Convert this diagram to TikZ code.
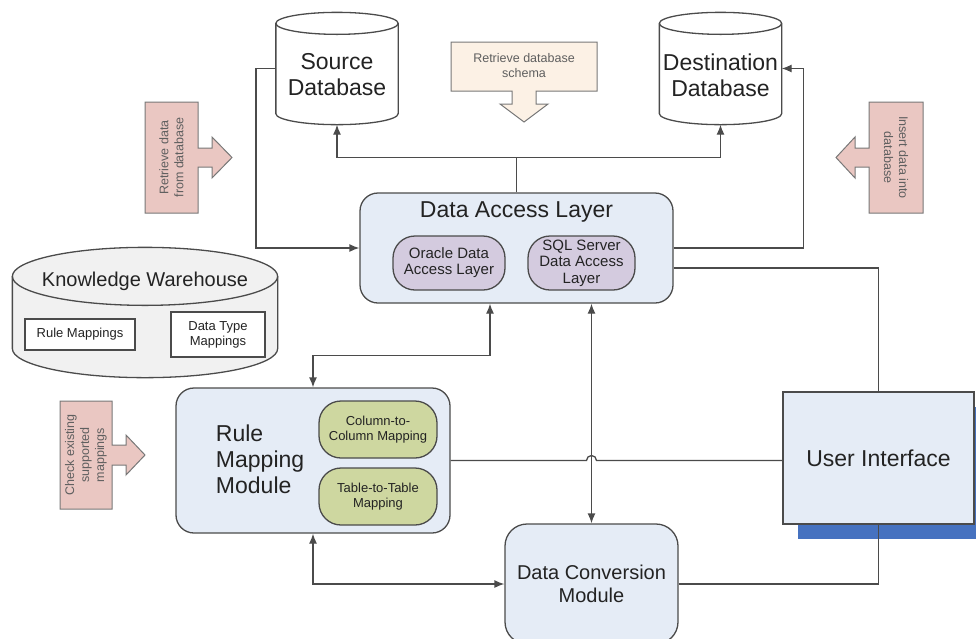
\documentclass[tikz,border=0pt]{standalone}
\usepackage{fontspec}
\setmainfont{Liberation Sans}
\usetikzlibrary{arrows.meta,calc,shadows}

\definecolor{boxblue}{RGB}{229,236,246}
\definecolor{pillpurple}{RGB}{212,203,223}
\definecolor{pillgreen}{RGB}{206,215,160}
\definecolor{notepink}{RGB}{234,199,194}
\definecolor{notepeach}{RGB}{252,241,229}
\definecolor{drumgray}{RGB}{241,241,241}
\definecolor{shadowblue}{RGB}{70,114,192}
\definecolor{linegray}{RGB}{75,75,75}
\definecolor{notegray}{RGB}{120,120,120}
\definecolor{textgray}{RGB}{35,35,35}
\definecolor{notetext}{RGB}{95,95,95}

% database drum round a node: node, y radius, fill
\newcommand{\dbdrum}[3]{%
  \filldraw[fill=#3,draw=linegray] let \p1=(#1.north west), \p2=(#1.south east), \n1={(\x2-\x1)/2} in
    (\x1,\y1-#2) -- (\x1,\y2+#2) arc[start angle=180,end angle=360,x radius=\n1,y radius=#2]
    -- (\x2,\y1-#2) arc[start angle=0,end angle=180,x radius=\n1,y radius=#2] -- cycle;
  \draw[linegray] let \p1=(#1.north west), \p2=(#1.south east), \n1={(\x2-\x1)/2} in
    (\x1,\y1-#2) arc[start angle=180,end angle=360,x radius=\n1,y radius=#2];
}

\begin{document}
\begin{tikzpicture}[x=1pt,y=-1pt,>={Latex[length=10pt,width=8pt]},line width=1.3pt,
  module node/.style={draw=linegray,fill=boxblue,rounded corners=18pt},
  pill node/.style={draw=linegray,rounded corners=22pt,align=center,text=textgray},
  drum node/.style={inner sep=0pt},
  big text/.style={align=center,text=textgray,font=\fontsize{23}{26}\selectfont},
  small box/.style={draw=linegray,fill=white,align=center,text=textgray,font=\fontsize{13}{15}\selectfont},
  note text/.style={align=center,text=notetext,font=\fontsize{12.5}{15}\selectfont},
  note shape/.style={draw=notegray,line width=1pt},
  link/.style={draw=linegray,line width=1.3pt}]
    \useasboundingbox (0,0) rectangle (976,638);

    % notes
    \filldraw[note shape,fill=notepeach] (451,42) -- (597,42) -- (597,91) -- (536,91) -- (536,104) -- (548,104)
        -- (524,122) -- (500,104) -- (512,104) -- (512,91) -- (451,91) -- cycle;
    \node[note text] (schemanote) at (524,65.5) {Retrieve database\\schema};

    \filldraw[note shape,fill=notepink] (145,102) -- (198,102) -- (198,148) -- (212,148) -- (212,137)
        -- (232,157.5) -- (212,178) -- (212,167) -- (198,167) -- (198,213) -- (145,213) -- cycle;
    \node[note text,rotate=90] (retrievenote) at (171.5,157.5) {Retrieve data\\from database};

    \filldraw[note shape,fill=notepink] (923,102) -- (869,102) -- (869,148) -- (855,148) -- (855,137)
        -- (836,157.5) -- (855,178) -- (855,167) -- (869,167) -- (869,213) -- (923,213) -- cycle;
    \node[note text,rotate=-90] (insertnote) at (896,157.5) {Insert data into\\database};

    \filldraw[note shape,fill=notepink] (60,401) -- (112,401) -- (112,445) -- (126,445) -- (126,435)
        -- (145,455) -- (126,475) -- (126,465) -- (112,465) -- (112,509) -- (60,509) -- cycle;
    \node[note text,rotate=90] (checknote) at (86,455) {Check existing\\supported\\mappings};

    % databases
    \node[drum node,minimum width=121pt,minimum height=111pt] (srcdb) at (337,68.5) {};
    \dbdrum{srcdb}{11pt}{white}
    \node[big text] (srcdbtext) at ([yshift=-6.5pt]srcdb.center) {Source\\Database};

    \node[drum node,minimum width=121pt,minimum height=111pt] (dstdb) at (720.5,68.5) {};
    \dbdrum{dstdb}{11pt}{white}
    \node[big text] (dstdbtext) at ([yshift=-6.5pt]dstdb.center) {Destination\\Database};

    \node[drum node,minimum width=264pt,minimum height=129pt] (kw) at (145,312.5) {};
    \dbdrum{kw}{29pt}{drumgray}
    \node[big text,font=\fontsize{20}{23}\selectfont] (kwtext) at (145,281) {Knowledge Warehouse};
    \node[small box,minimum width=110pt,minimum height=31pt] (rulemap) at (80,334.5) {Rule Mappings};
    \node[small box,minimum width=94pt,minimum height=45pt] (typemap) at (218,334.5) {Data Type\\Mappings};

    % modules
    \node[module node,minimum width=313pt,minimum height=110pt] (dal) at (516.5,248) {};
    \node[big text] (daltext) at ([yshift=-20pt]dal.north) {Data Access Layer};
    \node[pill node,fill=pillpurple,minimum width=112pt,minimum height=54pt,font=\fontsize{15}{16}\selectfont]
        (oracle) at (449,263) {Oracle Data\\Access Layer};
    \node[pill node,fill=pillpurple,minimum width=107pt,minimum height=54pt,font=\fontsize{15}{16.5}\selectfont]
        (sqlserver) at (581.5,263) {SQL Server\\Data Access\\Layer};

    \node[module node,minimum width=274pt,minimum height=145pt] (rmm) at (313,460.5) {};
    \node[big text,align=left,anchor=west] (rmmtext) at (212,459) {Rule\\Mapping\\Module};
    \node[pill node,fill=pillgreen,minimum width=118pt,minimum height=57pt,font=\fontsize{13}{15}\selectfont]
        (colmap) at (378,429.5) {Column-to-\\Column Mapping};
    \node[pill node,fill=pillgreen,minimum width=118pt,minimum height=57pt,font=\fontsize{13}{15}\selectfont]
        (tabmap) at (378,496.5) {Table-to-Table\\Mapping};

    \node[module node,rounded corners=22pt,minimum width=173pt,minimum height=120pt,big text,
        font=\fontsize{20}{23}\selectfont] (dcm) at (591.5,584) {Data Conversion\\Module};

    \node[draw=linegray,fill=boxblue,minimum width=191pt,minimum height=132pt,big text,
        drop shadow={shadow xshift=15pt,shadow yshift=-15pt,fill=shadowblue,opacity=1}]
        (ui) at (878.5,458) {User Interface};

    % connectors
    \draw[link,->] (srcdb.west) -- ++(-20,0) |- (dal.west);
    \draw[link,->] (dal.north) -- ++(0,-35) -| (srcdb.south);
    \draw[link,->] (dal.north) -- ++(0,-35) -| (dstdb.south);
    \draw[link,->] (dal.east) -- ++(130,0) |- (dstdb.east);
    \draw[link] ([yshift=-20pt]dal.east) -| (ui.north);
    \draw[link,<->] ([xshift=-26.5pt]dal.south) -- ++(0,52) -| (rmm.north);
    \draw[link,<->] (dal.south -| dcm.north) -- (dcm.north);
    \draw[link,<->] (rmm.south) |- (dcm.west);
    \draw[link] (rmm.east) -- ([xshift=-5pt]rmm.east -| dcm.north) arc[start angle=180,end angle=0,radius=5pt]
        -- (ui.west |- rmm.east);
    \draw[link] (dcm.east) -| (ui.south);
\end{tikzpicture}
\end{document}
